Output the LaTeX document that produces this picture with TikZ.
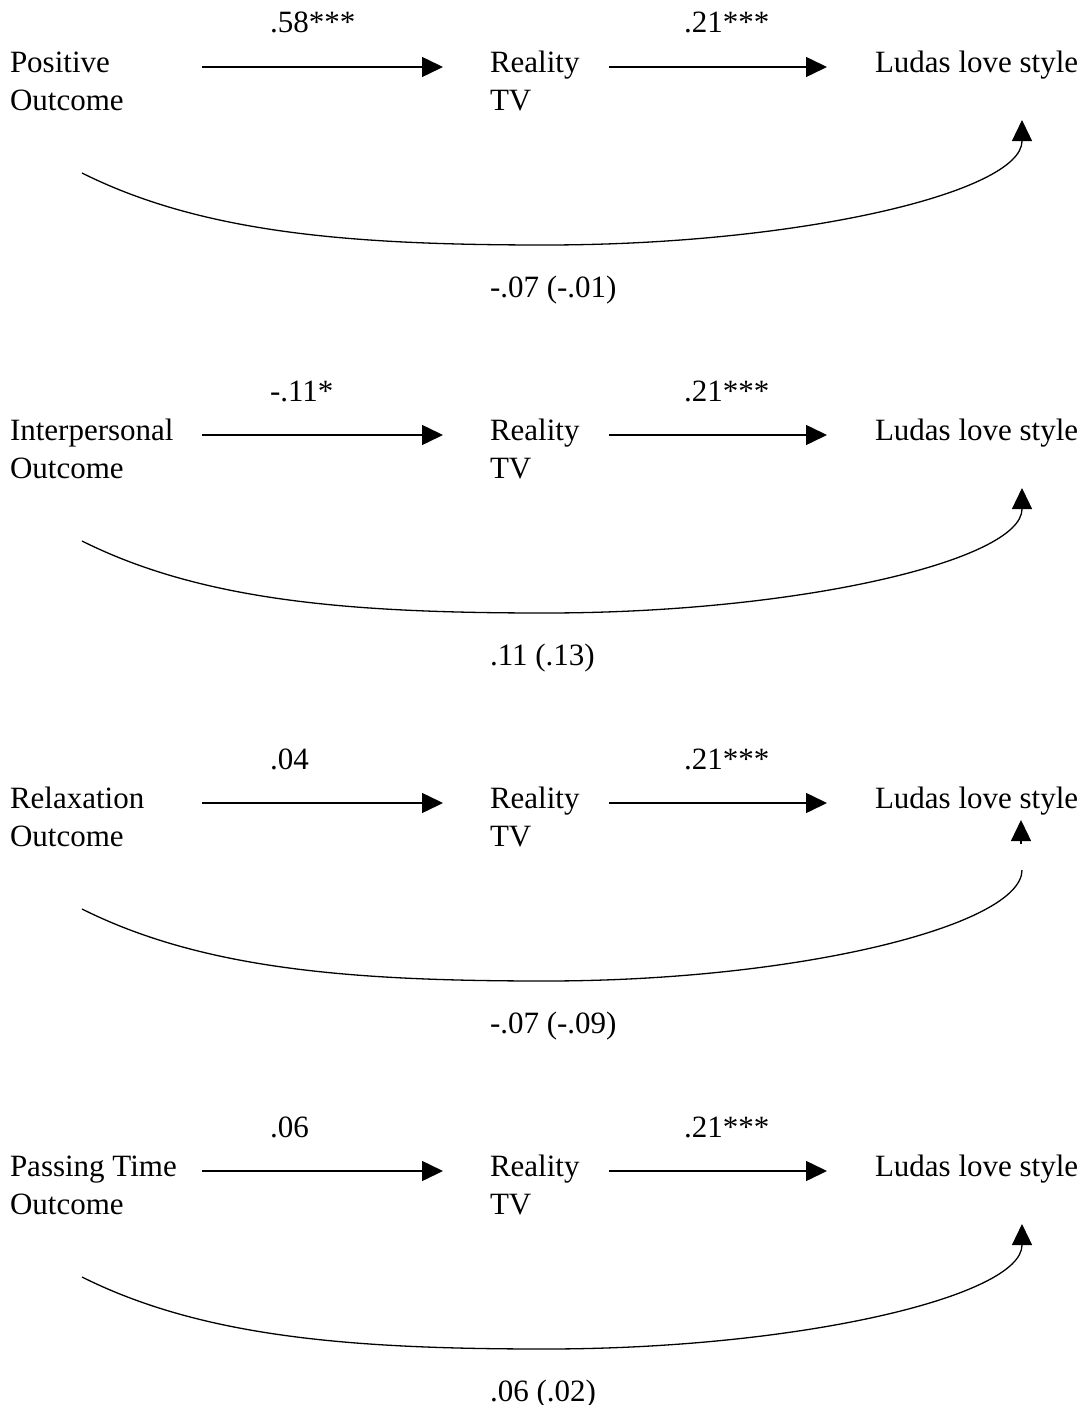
\documentclass[tikz,border=0pt]{standalone}
\usepackage{fontspec}
\setmainfont{Liberation Serif}
\usetikzlibrary{arrows.meta}
\tikzset{
  lbl/.style={inner sep=0pt, outer sep=0pt, align=left, anchor=base west, font=\fontsize{31}{38}\selectfont},
  straightarrow/.style={line width=1.5pt, -{Triangle[length=21pt,width=20pt]}},
  curveline/.style={line width=1.3pt},
  curvearrow/.style={line width=1.3pt, -{Triangle[length=21pt,width=20pt]}},
}
\newcommand\mypanel[5]{%
  \begin{scope}[shift={(0,#2)}]
    \node[lbl] (src#1) at (10,110) {#3};
    \node[lbl] (rtv#1) at (490,110) {Reality\\TV};
    \node[lbl] (lud#1) at (875,72) {Ludas love style};
    \node[lbl] (ab#1) at (270,33) {#4};
    \node[lbl] (bc#1) at (684,33) {.21***};
    \node[lbl] (ac#1) at (490,297) {#5};
    \coordinate (as#1) at (202,67);
    \coordinate (ae#1) at (443,67);
    \coordinate (bs#1) at (609,67);
    \coordinate (be#1) at (827,67);
    \coordinate (cs#1) at (82,173);
    \coordinate (cm#1) at (545,245);
    \draw[straightarrow] (as#1) -- (ae#1);
    \draw[straightarrow] (bs#1) -- (be#1);
  \end{scope}}
\begin{document}
\begin{tikzpicture}[x=1pt,y=-1pt]
\useasboundingbox (0,0) rectangle (1089,1405);
\mypanel{1}{0}{Positive\\Outcome}{.58***}{-.07 (-.01)}
\mypanel{2}{368}{Interpersonal\\Outcome}{-.11*}{.11 (.13)}
\mypanel{3}{736}{Relaxation\\Outcome}{.04}{-.07 (-.09)}
\mypanel{4}{1104}{Passing Time\\Outcome}{.06}{.06 (.02)}
% curved direct paths
\foreach \i/\o in {1/0,2/368,4/1104}{
  \coordinate (ce\i) at (1022,141+\o);
  \coordinate (ct\i) at (1022,120+\o);
  \draw[curvearrow] (cs\i) .. controls +(120,60) and (350,245+\o) .. (cm\i)
     .. controls (800,245+\o) and (1022,192+\o) .. (ce\i) -- (ct\i);
}
\coordinate (ce3) at (1022,870);
\coordinate (cx3) at (1021,844);
\coordinate (ct3) at (1021,820);
\draw[curveline] (cs3) .. controls +(120,60) and (350,981) .. (cm3)
   .. controls (800,981) and (1022,925) .. (ce3);
\draw[curvearrow] (cx3) -- (ct3);
\end{tikzpicture}
\end{document}
